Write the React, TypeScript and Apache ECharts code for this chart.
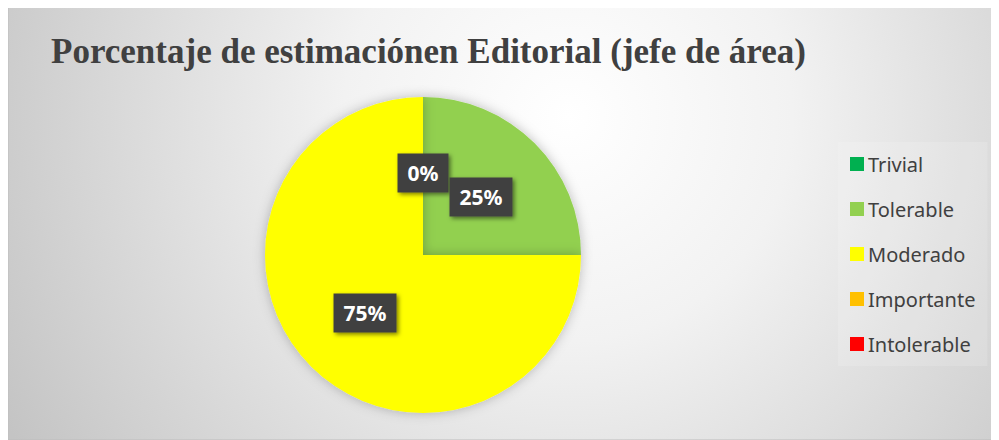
import React, { useEffect, useRef } from "react";
import * as echarts from "echarts";

const titleText = "Porcentaje de estimaciónen Editorial (jefe de área)";
const categories = ["Trivial", "Tolerable", "Moderado", "Importante", "Intolerable"];
const percentValues = [0, 25, 75, 0, 0];
const showLabel = [true, true, true, false, false];
const sliceColors = ["#00B050", "#92D050", "#FFFF00", "#FFC000", "#FF0000"];

export default function App() {
  const ref = useRef<HTMLDivElement>(null);
  useEffect(() => {
    if (!ref.current) return;
    const chart = echarts.init(ref.current, null, { renderer: "svg" });
    chart.setOption({
      animation: false,
      graphic: [
        {
          type: "rect",
          z: -10,
          silent: true,
          shape: { x: 0, y: 0, width: 991, height: 433 },
          style: {
            fill: new echarts.graphic.RadialGradient(
              560,
              110,
              640,
              [
                { offset: 0, color: "#ffffff" },
                { offset: 0.35, color: "#f2f2f2" },
                { offset: 1, color: "#c4c4c4" },
              ],
              true
            ),
            stroke: "#bdbdbd",
            lineWidth: 1,
          },
        },
      ],
      title: {
        text: titleText,
        left: 38,
        top: 22,
        textStyle: {
          fontFamily: "Liberation Serif",
          fontWeight: "bold",
          fontSize: 35,
          color: "#404040",
        },
      },
      legend: {
        orient: "vertical",
        left: 830,
        top: 135,
        padding: [12, 12, 12, 12],
        backgroundColor: "rgba(255,255,255,0.15)",
        itemWidth: 14,
        itemHeight: 14,
        itemGap: 25,
        icon: "rect",
        data: categories,
        textStyle: {
          fontFamily: "Noto Sans",
          fontSize: 20,
          color: "#404040",
          padding: [0, 0, 0, -1],
        },
      },
      series: [
        {
          type: "pie",
          center: [415, 248],
          radius: 158,
          startAngle: 90,
          clockwise: true,
          avoidLabelOverlap: false,
          stillShowZeroSum: true,
          itemStyle: {
            shadowBlur: 12,
            shadowColor: "rgba(0,0,0,0.25)",
          },
          label: {
            show: true,
            position: "inside",
            formatter: (p: any) => `${p.value}%`,
            color: "#ffffff",
            fontFamily: "Noto Sans",
            fontWeight: "bold",
            fontSize: 21,
            backgroundColor: "#404040",
            padding: [9, 10, 9, 10],
            shadowBlur: 4,
            shadowColor: "rgba(0,0,0,0.5)",
            shadowOffsetX: 2,
            shadowOffsetY: 2,
          },
          labelLine: { show: false },
          emphasis: { disabled: true },
          data: categories.map((name, i) => ({
            name,
            value: percentValues[i],
            itemStyle: { color: sliceColors[i] },
            label: { show: showLabel[i] },
          })),
        },
      ],
    });
    return () => chart.dispose();
  }, []);
  return <div ref={ref} style={{ width: 991, height: 433, marginTop: -1 }} />;
}
